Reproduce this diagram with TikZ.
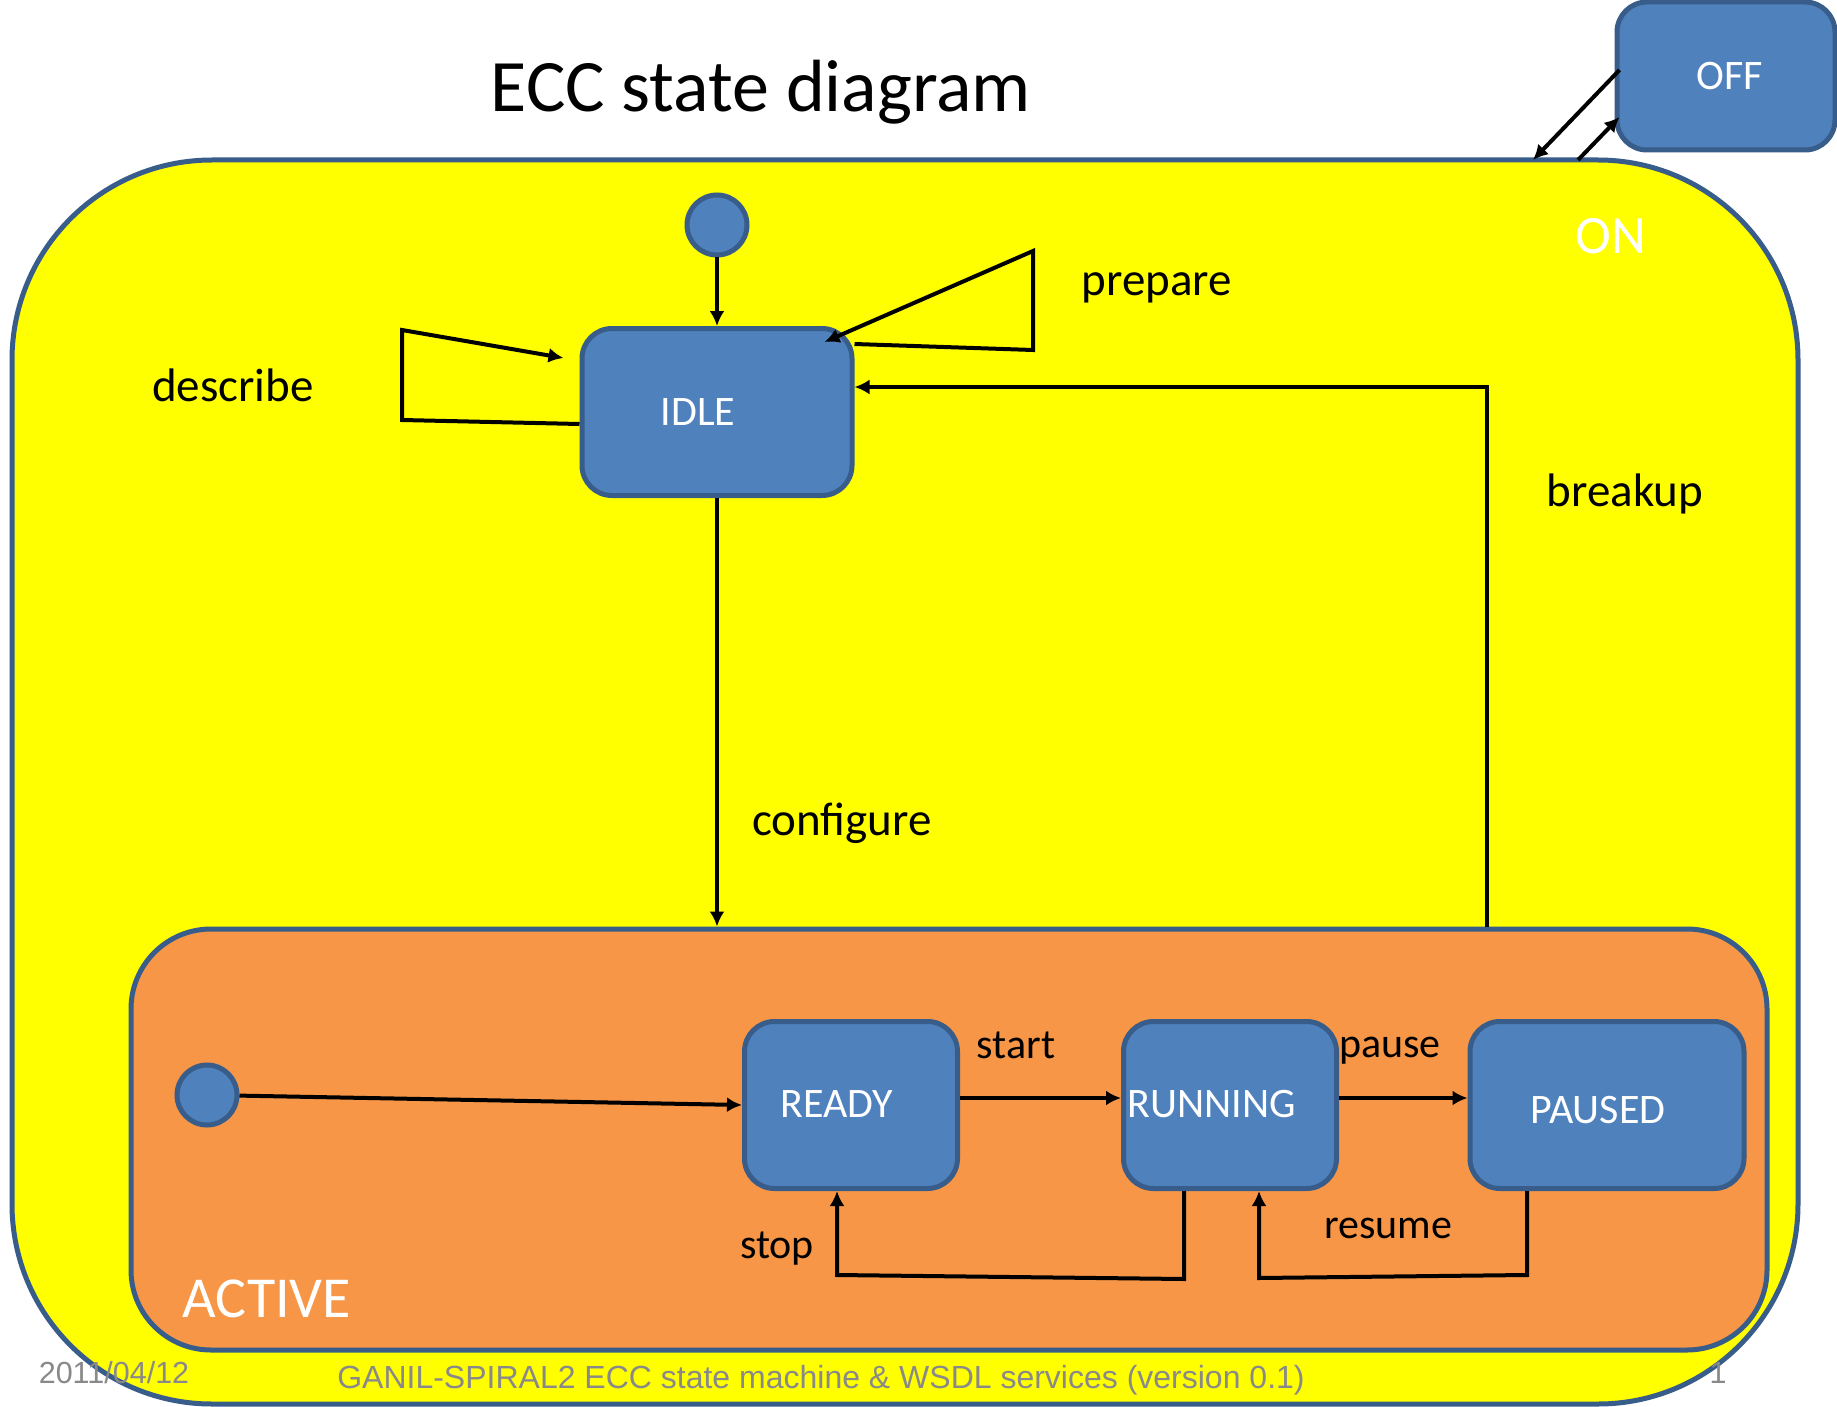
\documentclass[tikz,border=0pt]{standalone}
\usepackage{fontspec}
\setmainfont{Carlito}
\newfontfamily\arialf{Liberation Sans}
\usetikzlibrary{arrows.meta}
\definecolor{onyel}{RGB}{255,255,0}
\definecolor{actor}{RGB}{247,150,70}
\definecolor{stblue}{RGB}{79,129,189}
\definecolor{stbord}{RGB}{56,93,138}
\definecolor{footg}{RGB}{137,137,137}
\begin{document}
\begin{tikzpicture}[x=1pt,y=-1pt,
  stbox/.style={draw=stbord,fill=stblue,line width=5pt,rounded corners=30pt,inner sep=0pt,minimum height=167pt},
  sttext/.style={text=white,font=\fontsize{42}{48}\selectfont,inner sep=0pt,anchor=base},
  lbl/.style={text=black,font=\fontsize{47}{54}\selectfont,inner sep=0pt,anchor=base},
  initst/.style={circle,draw=stbord,fill=stblue,line width=5pt,minimum size=60pt,inner sep=0pt},
  arr/.style={line width=4pt,-{Latex[length=15pt,width=15pt]}},
  foot/.style={text=footg,inner sep=0pt,anchor=base},
]
\useasboundingbox (0,0) rectangle (1837,1407);
\fill[white] (0,0) rectangle (1837,1407);

% containers
\node[draw=stbord,fill=onyel,line width=5pt,rounded corners=200pt,minimum width=1786pt,minimum height=1244pt,inner sep=0pt] (on) at (905,782) {};
\node[draw=stbord,fill=actor,line width=5pt,rounded corners=80pt,minimum width=1636pt,minimum height=421pt,inner sep=0pt] (active) at (949,1139.5) {};

% title and region labels
\node[lbl,font=\fontsize{74}{80}\selectfont] (title) at (761,112) {ECC state diagram};
\node[sttext,font=\fontsize{54}{60}\selectfont] (onl) at (1611,254) {ON};
\node[sttext,font=\fontsize{58}{64}\selectfont] (actl) at (267,1317) {ACTIVE};

% states
\node[stbox,minimum width=218pt,minimum height=148pt] (off) at (1726,76) {};
\node[sttext] (offt) at (1730,90) {OFF};
\node[initst] (init1) at (717,225) {};
\node[stbox,minimum width=270pt] (idle) at (717,412) {};
\node[sttext] (idlet) at (698,425) {IDLE};
\node[initst] (init2) at (207,1095) {};
\node[stbox,minimum width=213pt] (ready) at (851,1105) {};
\node[sttext] (readyt) at (837,1117) {READY};
\node[stbox,minimum width=213pt] (running) at (1230,1105) {};
\node[sttext] (runningt) at (1212,1117) {RUNNING};
\node[stbox,minimum width=274pt] (paused) at (1607,1105) {};
\node[sttext] (pausedt) at (1598,1123) {PAUSED};

% coordinates for bends
\coordinate (oa) at (1533,160);
\coordinate (ob) at (1578,160);
\coordinate (bk) at (1487,387);
\coordinate (s1) at (1184,1279);
\coordinate (s2) at (837,1275);
\coordinate (r1) at (1527,1275);
\coordinate (r2) at (1259,1278);

% connectors
\draw[arr] ([xshift=5pt,yshift=6pt]off.west) -- (oa);
\draw[arr] (ob) -- ([xshift=5pt,yshift=-41pt]off.west);
\draw[arr] (init1) -- (idle.north);
\draw[arr] ([yshift=-12pt]idle.west) -- (402,420) -- (402,330) -- ([xshift=-16pt,yshift=54pt]idle.west);
\draw[arr] ([yshift=68pt]idle.east) -- (1033,350) -- (1033,251) -- ([xshift=-30pt,yshift=70pt]idle.east);
\draw[arr] (active.north -| bk) -- (bk) -- (idle.east |- bk);
\draw[arr] (idle.south) -- (idle.south |- active.north);
\draw[arr] (init2) -- (ready.west);
\draw[arr] ([yshift=7pt]ready.east) -- ([yshift=7pt]running.west);
\draw[arr] ([yshift=7pt]running.east) -- ([yshift=7pt]paused.west);
\draw[arr] (running.south -| s1) -- (s1) -- (s2) -- (ready.south -| s2);
\draw[arr] (paused.south -| r1) -- (r1) -- (r2) -- (running.south -| r2);

% transition labels
\node[lbl] (ldescribe) at (233,401) {describe};
\node[lbl] (lprepare) at (1157,295) {prepare};
\node[lbl] (lbreakup) at (1625,506) {breakup};
\node[lbl] (lconfigure) at (842,835) {configure};
\node[lbl,font=\fontsize{42}{48}\selectfont] (lstart) at (1016,1058) {start};
\node[lbl,font=\fontsize{42}{48}\selectfont] (lpause) at (1390,1057) {pause};
\node[lbl,font=\fontsize{42}{48}\selectfont] (lstop) at (777,1258) {stop};
\node[lbl,font=\fontsize{42}{48}\selectfont] (lresume) at (1388,1238) {resume};

% footer
\node[foot,font=\arialf\fontsize{30.5}{34}\selectfont] (fdate) at (114,1383) {2011/04/12};
\node[foot,font=\arialf\fontsize{32}{36}\selectfont] (fmain) at (821,1388) {GANIL-SPIRAL2 ECC state machine \& WSDL services (version 0.1)};
\node[foot,font=\arialf\fontsize{30.5}{34}\selectfont] (fnum) at (1718,1383) {1};
\end{tikzpicture}
\end{document}
